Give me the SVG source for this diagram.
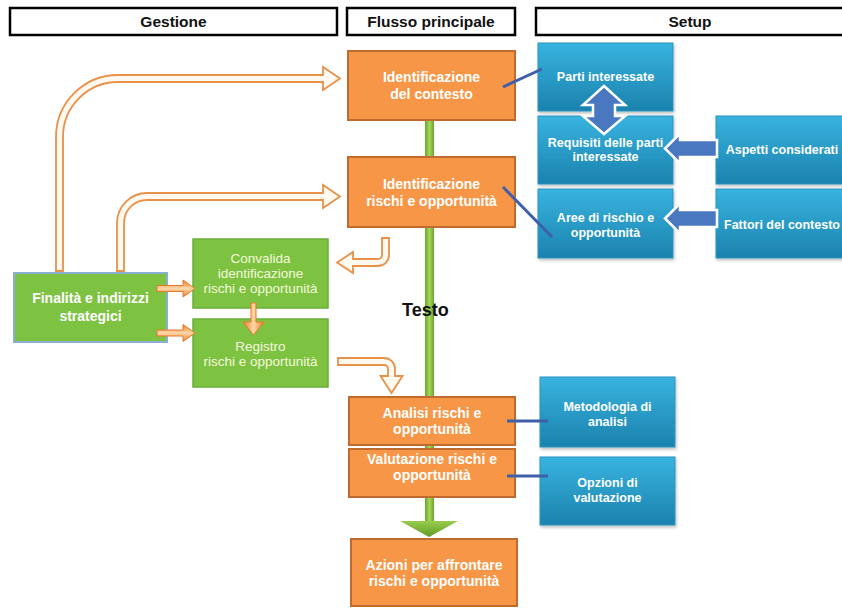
<svg xmlns="http://www.w3.org/2000/svg" width="842" height="608" viewBox="0 0 842 608">
<defs>
<linearGradient id="gBlue" x1="0" y1="0" x2="0" y2="1">
<stop offset="0" stop-color="#38B3DF"/>
<stop offset="1" stop-color="#1C82AE"/>
</linearGradient>
<linearGradient id="gBar" x1="0" y1="0" x2="1" y2="0">
<stop offset="0" stop-color="#6AA52C"/>
<stop offset="0.5" stop-color="#A6D65A"/>
<stop offset="1" stop-color="#6AA52C"/>
</linearGradient>
<linearGradient id="gHead" x1="0" y1="0" x2="0" y2="1">
<stop offset="0" stop-color="#9ACD4E"/>
<stop offset="1" stop-color="#5E9A26"/>
</linearGradient>
<linearGradient id="gSmall" x1="0" y1="0" x2="0" y2="1">
<stop offset="0" stop-color="#EE7F2D"/>
<stop offset="0.5" stop-color="#FBD7A8"/>
<stop offset="1" stop-color="#EE7F2D"/>
</linearGradient>
<linearGradient id="gSmallV" x1="0" y1="0" x2="1" y2="0">
<stop offset="0" stop-color="#EE7F2D"/>
<stop offset="0.5" stop-color="#FBD7A8"/>
<stop offset="1" stop-color="#EE7F2D"/>
</linearGradient>
<filter id="shadow" x="-5%" y="-5%" width="115%" height="120%">
<feDropShadow dx="1" dy="2" stdDeviation="1.5" flood-color="#000" flood-opacity="0.25"/>
</filter>
</defs>
<style>
.hdr{fill:#fff;stroke:#000;stroke-width:2.5}
.hdrt{font-family:"Liberation Sans",Arial,sans-serif;font-weight:bold;font-size:15.5px;fill:#111;text-anchor:middle}
.or{fill:#F79646;stroke:#BF6A2E;stroke-width:2}
.ort{font-family:"Liberation Sans",Arial,sans-serif;font-weight:bold;font-size:14px;fill:#fff;text-anchor:middle}
.bl{fill:url(#gBlue);stroke:#2A93BE;stroke-width:1;filter:url(#shadow)}
.blt{font-family:"Liberation Sans",Arial,sans-serif;font-weight:bold;font-size:12.5px;fill:#fff;text-anchor:middle}
.gr{fill:#7EC242;stroke:#6AAE38;stroke-width:1.5}
.grt{font-family:"Liberation Sans",Arial,sans-serif;font-size:13.5px;fill:#F4F9DC;text-anchor:middle}
.grb{font-family:"Liberation Sans",Arial,sans-serif;font-weight:bold;font-size:14px;fill:#fff;text-anchor:middle}
.oarr{fill:#FFF9F0;stroke:#E8914A;stroke-width:1.8;stroke-linejoin:miter}
.barr{fill:#4A78C0;stroke:#fff;stroke-width:2.5;stroke-linejoin:miter}
.link{stroke:#3F5FA8;stroke-width:3;fill:none}
.sarr{stroke:#E87828;stroke-width:1}
</style>

<g id="headers">
<rect class="hdr" x="10" y="8" width="327" height="27"/>
<text class="hdrt" x="173.5" y="27">Gestione</text>
<rect class="hdr" x="347" y="8" width="168" height="27"/>
<text class="hdrt" x="431" y="27">Flusso principale</text>
<rect class="hdr" x="536" y="8" width="310" height="27"/>
<text class="hdrt" x="690" y="27">Setup</text>
</g>

<g id="main-flow">
<rect x="425" y="118" width="9" height="404" fill="url(#gBar)"/>
<polygon points="400,521 458,521 429,537" fill="url(#gHead)"/>
</g>

<g id="n-contesto">
<rect class="or" x="348" y="51" width="167" height="69"/>
<text class="ort" x="431.5" y="82">Identificazione</text>
<text class="ort" x="431.5" y="99">del contesto</text>
</g>
<g id="n-identificazione">
<rect class="or" x="348" y="157" width="167" height="70"/>
<text class="ort" x="431.5" y="188.5">Identificazione</text>
<text class="ort" x="431.5" y="205.5">rischi e opportunità</text>
</g>
<g id="n-analisi">
<rect class="or" x="349" y="397" width="166" height="48"/>
<text class="ort" x="432" y="418">Analisi rischi e</text>
<text class="ort" x="432" y="434">opportunità</text>
</g>
<g id="n-valutazione">
<rect class="or" x="349" y="449" width="166" height="48"/>
<text class="ort" x="432" y="464">Valutazione rischi e</text>
<text class="ort" x="432" y="480">opportunità</text>
</g>
<g id="n-azioni">
<rect class="or" x="351" y="539" width="166" height="67"/>
<text class="ort" x="434" y="570">Azioni per affrontare</text>
<text class="ort" x="434" y="586">rischi e opportunità</text>
</g>

<g id="n-parti">
<rect class="bl" x="538" y="43" width="135" height="68"/>
<text class="blt" x="605.5" y="81">Parti interessate</text>
</g>
<g id="n-requisiti">
<rect class="bl" x="538" y="116" width="135" height="68"/>
<text class="blt" x="605.5" y="147">Requisiti delle parti</text>
<text class="blt" x="605.5" y="161">interessate</text>
</g>
<g id="n-aree">
<rect class="bl" x="538" y="189" width="135" height="69"/>
<text class="blt" x="605.5" y="222">Aree di rischio e</text>
<text class="blt" x="605.5" y="237">opportunità</text>
</g>
<g id="n-aspetti">
<rect class="bl" x="716" y="116" width="130" height="68"/>
<text class="blt" x="782" y="154">Aspetti considerati</text>
</g>
<g id="n-fattori">
<rect class="bl" x="716" y="189" width="130" height="69"/>
<text class="blt" x="782" y="229">Fattori del contesto</text>
</g>
<g id="n-metodologia">
<rect class="bl" x="540" y="377" width="135" height="70"/>
<text class="blt" x="607.5" y="411">Metodologia di</text>
<text class="blt" x="607.5" y="426">analisi</text>
</g>
<g id="n-opzioni">
<rect class="bl" x="540" y="457" width="135" height="68"/>
<text class="blt" x="607.5" y="487">Opzioni di</text>
<text class="blt" x="607.5" y="502">valutazione</text>
</g>

<g id="n-finalita">
<rect x="14" y="273" width="153" height="69" fill="#7EC242" stroke="#8AAFD2" stroke-width="2"/>
<text class="grb" x="90.5" y="303">Finalità e indirizzi</text>
<text class="grb" x="90.5" y="321">strategici</text>
</g>
<g id="n-convalida">
<rect class="gr" x="193" y="239" width="135" height="69"/>
<text class="grt" x="260.5" y="263">Convalida</text>
<text class="grt" x="260.5" y="278">identificazione</text>
<text class="grt" x="260.5" y="293">rischi e opportunità</text>
</g>
<g id="n-registro">
<rect class="gr" x="193" y="319" width="135" height="68"/>
<text class="grt" x="260.5" y="351">Registro</text>
<text class="grt" x="260.5" y="366">rischi e opportunità</text>
</g>

<g id="connectors">
<line class="link" x1="503" y1="87" x2="542" y2="69"/>
<line class="link" x1="503" y1="187" x2="552" y2="237"/>
<line class="link" x1="507" y1="421" x2="548" y2="421"/>
<line class="link" x1="507" y1="476" x2="548" y2="476"/>
<path class="barr" d="M604 86 L625 105 L615 105 L615 116 L625 116 L604 134 L583 116 L593 116 L593 105 L583 105 Z"/>
<path class="barr" d="M665 148.5 L680 133.5 L680 140 L717 140 L717 157 L680 157 L680 163.5 Z"/>
<path class="barr" d="M665 218.5 L680 203.5 L680 210 L717 210 L717 227 L680 227 L680 233.5 Z"/>
<path class="oarr" d="M56 271 L56 137 A62 62 0 0 1 118 75 L323 75 L323 67 L340 78.5 L323 90 L323 82 L118 82 A55 55 0 0 0 63 137 L63 271 Z"/>
<path class="oarr" d="M117 271 L117 223 A30 30 0 0 1 147 193 L323 193 L323 185 L340 196.5 L323 208 L323 200 L147 200 A23 23 0 0 0 124 223 L124 271 Z"/>
<path class="oarr" d="M382 238 L389 238 L389 255 A11 11 0 0 1 378 266 L353 266 L353 273 L337 262.5 L353 252 L353 259 L378 259 A4 4 0 0 0 382 255 Z"/>
<path class="oarr" d="M338 358 L384 358 A11 11 0 0 1 395 369 L395 376 L402.5 376 L391.5 393 L380.5 376 L388 376 L388 369 A4 4 0 0 0 384 365 L338 365 Z"/>
<path class="sarr" fill="url(#gSmall)" d="M157 285.5 L183 285.5 L183 280 L195 288.5 L183 297 L183 291.5 L157 291.5 Z"/>
<path class="sarr" fill="url(#gSmall)" d="M157 330 L183 330 L183 324.5 L195 333 L183 341.5 L183 336 L157 336 Z"/>
<path class="sarr" fill="url(#gSmallV)" d="M251 303 L256 303 L256 322 L264 322 L253.5 335 L243 322 L251 322 Z"/>
</g>

<text x="402" y="316" font-family="Liberation Sans, Arial, sans-serif" font-weight="bold" font-size="18" fill="#111">Testo</text>
</svg>
